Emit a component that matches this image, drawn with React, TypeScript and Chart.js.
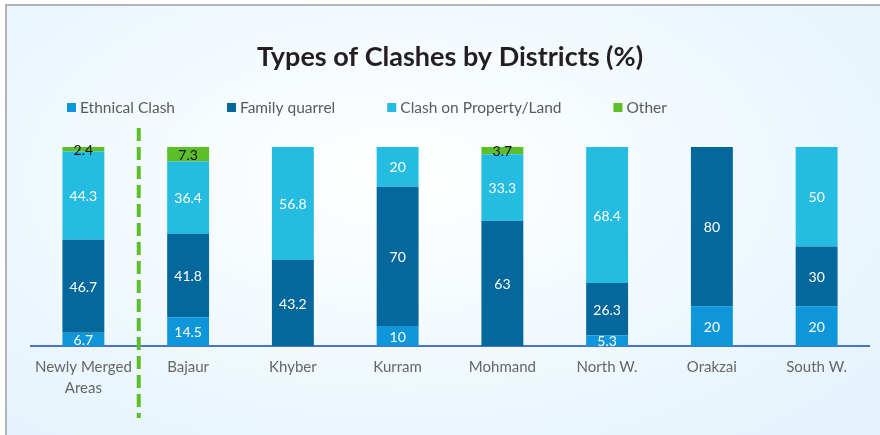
import React, { useEffect, useRef } from "react";
import { Chart, registerables } from "chart.js";

Chart.register(...registerables);

const TITLE = "Types of Clashes by Districts (%)";
const districts: (string | string[])[] = [
  ["Newly Merged", "Areas"],
  "Bajaur",
  "Khyber",
  "Kurram",
  "Mohmand",
  "North W.",
  "Orakzai",
  "South W.",
];
const ethnicalClash = [6.7, 14.5, 0, 10, 0, 5.3, 20, 20];
const familyQuarrel = [46.7, 41.8, 43.2, 70, 63, 26.3, 80, 30];
const propertyLand = [44.3, 36.4, 56.8, 20, 33.3, 68.4, 0, 50];
const other = [2.4, 7.3, 0, 0, 3.7, 0, 0, 0];

const seriesNames = ["Ethnical Clash", "Family quarrel", "Clash on Property/Land", "Other"];
const seriesColors = ["#0E96DA", "#05689C", "#25BCE2", "#5CBF2A"];
const labelColors = ["#ffffff", "#ffffff", "#ffffff", "#111111"];

const FONT = "Lato, 'Open Sans', sans-serif";

const segmentLabels = {
  id: "segmentLabels",
  afterDatasetsDraw(chart: any) {
    const ctx = chart.ctx;
    ctx.save();
    ctx.font = `14px ${FONT}`;
    ctx.textAlign = "center";
    ctx.textBaseline = "middle";
    chart.data.datasets.forEach((ds: any, di: number) => {
      const meta = chart.getDatasetMeta(di);
      meta.data.forEach((el: any, i: number) => {
        const v = ds.data[i];
        if (!v) return;
        ctx.fillStyle = labelColors[di];
        ctx.fillText(String(v), el.x, (el.y + el.base) / 2 + 1);
      });
    });
    ctx.restore();
  },
};

const customLegend = {
  id: "customLegend",
  afterDraw(chart: any) {
    const ctx = chart.ctx;
    ctx.save();
    ctx.font = `15.5px ${FONT}`;
    ctx.textBaseline = "middle";
    ctx.textAlign = "left";
    let x = chart.chartArea.left + 36;
    const y = chart.chartArea.top - 39;
    chart.data.datasets.forEach((ds: any) => {
      ctx.fillStyle = ds.backgroundColor;
      ctx.fillRect(x, y - 5, 9, 9);
      ctx.fillStyle = "#5a5a5a";
      ctx.fillText(ds.label, x + 13, y);
      x += 13 + ctx.measureText(ds.label).width + 52;
    });
    ctx.restore();
  },
};

const separator = {
  id: "separator",
  afterDraw(chart: any) {
    const ctx = chart.ctx;
    const xs = chart.scales.x;
    const x = (xs.getPixelForValue(0) + xs.getPixelForValue(1)) / 2 + 3;
    ctx.save();
    ctx.strokeStyle = "#5CBF2A";
    ctx.lineWidth = 4;
    ctx.setLineDash([13, 6]);
    ctx.beginPath();
    ctx.moveTo(x, chart.chartArea.top - 19);
    ctx.lineTo(x, chart.chartArea.bottom + 72);
    ctx.stroke();
    ctx.restore();
  },
};

export default function App() {
  const ref = useRef<HTMLCanvasElement>(null);
  useEffect(() => {
    document.body.style.margin = "0";
    const series = [ethnicalClash, familyQuarrel, propertyLand, other];
    const chart = new Chart(ref.current!, {
      type: "bar",
      data: {
        labels: districts as any,
        datasets: series.map((d, i) => ({
          label: seriesNames[i],
          data: d,
          backgroundColor: seriesColors[i],
          borderWidth: 0,
          barPercentage: 0.4,
          categoryPercentage: 1,
        })),
      },
      options: {
        responsive: false,
        animation: false,
        layout: { padding: { left: 31, right: 11, top: 0, bottom: 25 } },
        plugins: {
          legend: { display: false },
          tooltip: { enabled: false },
          title: {
            display: true,
            text: TITLE,
            color: "#231F20",
            font: { family: FONT, size: 27, weight: "bold", lineHeight: 1.2 },
            padding: { top: 41, bottom: 73.6 },
          },
        },
        scales: {
          x: {
            stacked: true,
            grid: { display: false, drawTicks: false },
            border: { display: true, color: "#4a74c6", width: 2 },
            ticks: {
              color: "#666666",
              font: { family: FONT, size: 15, lineHeight: 1.4 },
              padding: 11,
              maxRotation: 0,
              autoSkip: false,
            },
          },
          y: {
            stacked: true,
            display: false,
            min: 0,
            max: 100,
          },
        },
      },
      plugins: [segmentLabels, customLegend, separator],
    });
    return () => chart.destroy();
  }, []);

  return (
    <div style={{ position: "relative", width: 880, height: 435, background: "#ffffff", overflow: "hidden" }}>
      <div
        style={{
          position: "absolute",
          left: 5,
          top: 4,
          right: 0,
          bottom: 0,
          borderTop: "2px solid #b4b4b4",
          borderLeft: "2px solid #b4b4b4",
          background: "radial-gradient(ellipse 70% 80% at 45% 40%, #ffffff 0%, #f3fafe 45%, #e4f3fc 100%)",
        }}
      />
      <canvas ref={ref} width={880} height={435} style={{ position: "absolute", left: 0, top: 0 }} />
    </div>
  );
}
